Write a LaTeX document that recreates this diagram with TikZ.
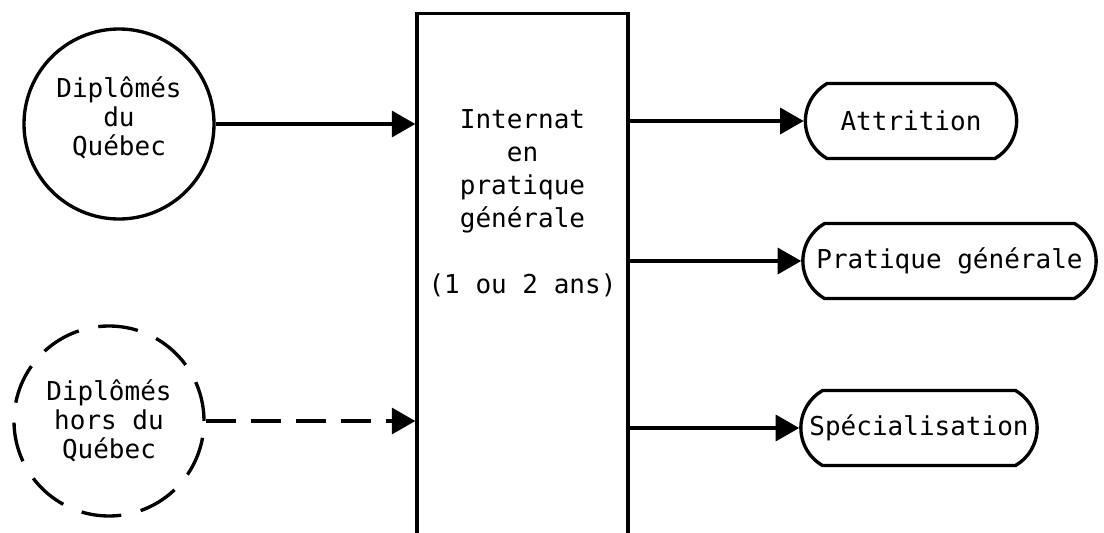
\documentclass[tikz,border=0pt]{standalone}
\usepackage{fontspec}
\setmonofont{DejaVu Sans Mono}
\usetikzlibrary{arrows.meta,shapes.misc,positioning}

\begin{document}
\begin{tikzpicture}[
    every node/.style={font=\ttfamily\fontsize{14.8}{16.5}\selectfont},
    src/.style={circle,draw,line width=1.9pt,minimum size=3.8cm,align=center,inner sep=0},
    res/.style={rounded rectangle,rounded rectangle arc length=120,draw,line width=1.9pt,minimum height=1.5cm},
    fl/.style={line width=1.9pt,-{Triangle[length=0.47cm,width=0.52cm]}}]
  \useasboundingbox (0,0) rectangle (22.08,10.64);
  % entrees
  \node[src,text depth=0.3cm] (dq) at (2.38,8.16) {Diplômés\\du\\Québec};
  \node[src,dash pattern=on 0.8cm off 0.4cm] (dhq) at (2.18,2.22) {Diplômés\\hors du\\Québec};
  % internat
  \node[draw,line width=1.9pt,minimum width=4.22cm,minimum height=11.5cm,anchor=north] (box) at (10.45,10.4) {};
  \node[align=center,anchor=north,inner sep=0,font=\ttfamily\fontsize{14.8}{18.8}\selectfont] (boxtxt) at (10.45,8.46)
    {Internat\\en\\pratique\\générale\\[0.66cm](1 ou 2 ans)};
  % sorties
  \node[res,minimum width=4.46cm] (att) at (18.22,8.22) {Attrition};
  \node[res,minimum width=6.1cm] (pg) at (18.99,5.42) {Pratique générale};
  \node[res,minimum width=4.96cm] (spe) at (18.38,2.08) {Spécialisation};
  \draw[fl] (dq.east) -- (dq.east -| box.west);
  \draw[fl,dash pattern=on 0.6cm off 0.3cm] (dhq.east) -- (dhq.east -| box.west);
  \draw[fl] (att.west -| box.east) -- (att.west);
  \draw[fl] (pg.west -| box.east) -- (pg.west);
  \draw[fl] (spe.west -| box.east) -- (spe.west);
\end{tikzpicture}
\end{document}
